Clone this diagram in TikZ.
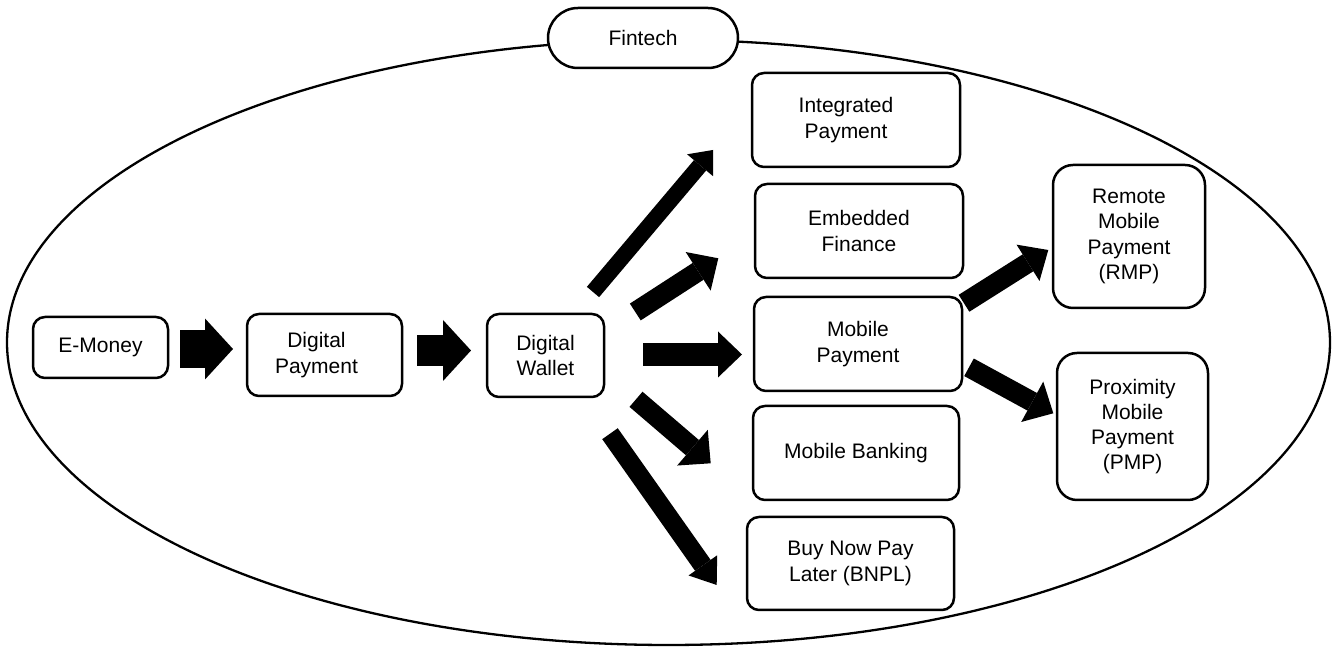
\documentclass[tikz,border=0pt]{standalone}
\usepackage{fontspec}
\setmainfont{Liberation Sans}
\usetikzlibrary{arrows.meta}
\tikzset{
  box/.style={draw, line width=1.25pt, rounded corners=6pt, align=center, inner sep=0pt,
    font=\fontsize{10.5}{12.6}\selectfont},
  fatarrow/.style n args={3}{line width=#1, line cap=butt,
    -{Triangle[width=#2, length=#3, line width=0pt]}},
}
\begin{document}
\begin{tikzpicture}[x=0.5pt, y=-0.5pt]
\useasboundingbox (0,0) rectangle (1335,656);
% Outer ellipse
\draw[line width=1.15pt] (668.5,342.5) ellipse [x radius=661.5, y radius=302.5];
% Title
\node[box, fill=white, rounded corners=15pt, minimum width=95pt, minimum height=30pt] (fintech) at (643,38) {Fintech};
% Boxes
\node[box, minimum width=67.5pt, minimum height=30.5pt] (emoney) at (100.5,347.5) {E-Money};
\node[box, minimum width=77.5pt, minimum height=41pt] (dpay) at (324.5,355) {Digital\hspace*{8pt}\\Payment\hspace*{8pt}};
\node[box, minimum width=58.5pt, minimum height=41.5pt] (dwallet) at (545.5,355.5) {Digital\\Wallet};
\node[box, minimum width=104pt, minimum height=47pt] (integ) at (856,120) {Integrated\hspace*{10pt}\\Payment\hspace*{10pt}};
\node[box, minimum width=104pt, minimum height=47pt] (embed) at (859,231) {Embedded\\Finance};
\node[box, minimum width=104pt, minimum height=47pt] (mobpay) at (858,344) {Mobile\\Payment};
\node[box, minimum width=103pt, minimum height=47pt] (mobbank) at (856,453) {Mobile Banking};
\node[box, minimum width=103.5pt, minimum height=46.5pt] (bnpl) at (850.5,563.5) {Buy Now Pay\\Later (BNPL)};
\node[box, rounded corners=10pt, minimum width=76pt, minimum height=71.5pt] (rmp) at (1129,236.5) {Remote\\Mobile\\Payment\\(RMP)};
\node[box, rounded corners=10pt, minimum width=75.5pt, minimum height=73.5pt] (pmp) at (1132.5,426.5) {Proximity\\Mobile\\Payment\\(PMP)};
% Arrow end points
\coordinate (a1s) at (180,349);   \coordinate (a1e) at (233,349);
\coordinate (a2s) at (417,350.5); \coordinate (a2e) at (471,350.5);
\coordinate (a3s) at (643,354.5); \coordinate (a3e) at (742,354.5);
\coordinate (a4s) at (593,292);   \coordinate (a4e) at (713,150);
\coordinate (a5s) at (635.3,312); \coordinate (a5e) at (718.3,258.3);
\coordinate (a6s) at (636,399.3); \coordinate (a6e) at (710.7,463.3);
\coordinate (a7s) at (610,433.7); \coordinate (a7e) at (716.7,585);
\coordinate (a8s) at (964,303.3); \coordinate (a8e) at (1048.3,250);
\coordinate (a9s) at (969,367.3); \coordinate (a9e) at (1053.3,413.3);
% Arrows
\draw[fatarrow={19pt}{30.5pt}{14pt}] (a1s) -- (a1e);
\draw[fatarrow={15.5pt}{30.5pt}{14pt}] (a2s) -- (a2e);
\draw[fatarrow={11.5pt}{23pt}{12pt}] (a3s) -- (a3e);
\draw[fatarrow={8pt}{17pt}{10pt}] (a4s) -- (a4e);
\draw[fatarrow={10pt}{23pt}{12pt}] (a5s) -- (a5e);
\draw[fatarrow={10pt}{23.5pt}{12pt}] (a6s) -- (a6e);
\draw[fatarrow={9.5pt}{17.5pt}{12pt}] (a7s) -- (a7e);
\draw[fatarrow={10pt}{21.5pt}{12pt}] (a8s) -- (a8e);
\draw[fatarrow={10pt}{23pt}{12pt}] (a9s) -- (a9e);
\end{tikzpicture}
\end{document}
